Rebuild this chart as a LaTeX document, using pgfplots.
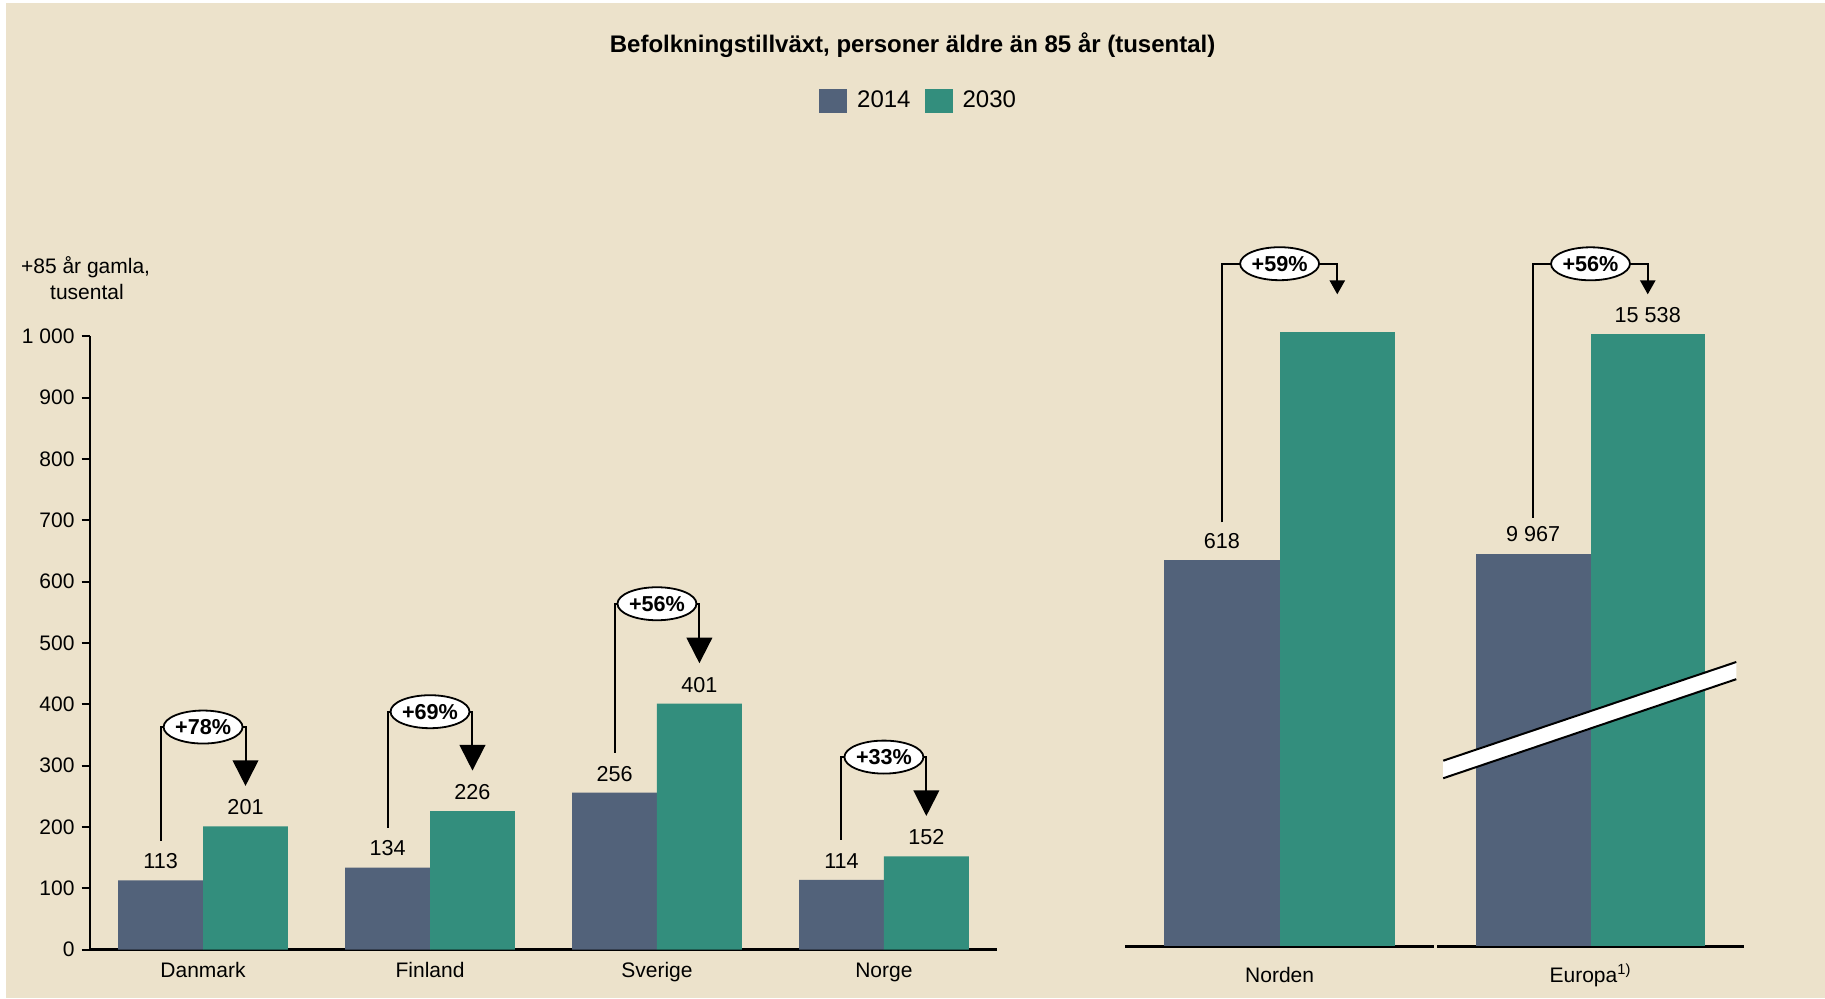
\documentclass[border=0pt]{standalone}
\usepackage{fontspec}
\setmainfont{Liberation Sans}
\usepackage{pgfplots}
\pgfplotsset{compat=1.18}
\usetikzlibrary{arrows.meta,shapes.geometric}
\definecolor{bg}{RGB}{236,226,203}
\definecolor{cA}{RGB}{82,98,122}
\definecolor{cB}{RGB}{51,142,125}
\newcommand{\fs}{\fontsize{10.5}{12}\selectfont}
\newcommand{\fv}{\fontsize{10.8}{12}\selectfont}
\tikzset{pct/.style={ellipse, draw=black, fill=white, line width=0.9pt, minimum width=36.5pt, minimum height=16.5pt, inner sep=0pt, font=\bfseries\fontsize{10.8}{12}\selectfont}}
% #1 x2014, #2 x2030, #3 xcenter, #4 bottom, #5 top, #6 tip, #7 text
\newcommand{\growthL}[7]{%
  \draw[line width=1pt, line join=miter, -{Triangle[width=12.8pt,length=12.8pt]}] (axis cs:#1,#4) |- (axis cs:#2,#5) -- (axis cs:#2,#6);
  \node[pct] at (axis cs:#3,#5) {#7};}
\newcommand{\growthR}[7]{%
  \draw[line width=1pt, line join=miter, -{Triangle[width=7.6pt,length=7pt]}] (axis cs:#1,#4) |- (axis cs:#2,#5) -- (axis cs:#2,#6);
  \node[pct] at (axis cs:#3,#5) {#7};}
\pgfplotsset{
  common/.style={
    anchor=south west, scale only axis, clip=false, enlargelimits=false,
    ybar=0pt, bar width=0.374,
    axis x line*=bottom,
    x axis line style={line width=1.6pt, black},
    x tick style={draw=none},
    tick label style={font=\fs, black},
    every node near coord/.append style={font=\fv, anchor=south, inner sep=0pt, yshift=5.5pt, black},
  }
}
\begin{document}
\begin{tikzpicture}
\useasboundingbox (0,0) rectangle (912.5pt,499pt);
\fill[white] (0,0) rectangle (912.5pt,499pt);
\fill[bg] (3pt,0) rectangle (912.5pt,497.5pt);

\node[font=\bfseries\fontsize{12}{14}\selectfont, anchor=base] at (456.3pt,472.5pt) {Befolkningstillväxt, personer äldre än 85 år (tusental)};
\node[font=\fs, anchor=base] at (42.8pt,362.4pt) {+85 år gamla,};
\node[font=\fs, anchor=base] at (43.5pt,349pt) {tusental};

% Left panel: countries
\begin{axis}[common,
  at={(44.8pt,24.15pt)}, width=453.9pt, height=306.7pt,
  xmin=-0.5, xmax=3.5, ymin=0, ymax=1000,
  axis y line*=left,
  y axis line style={line width=1pt, black},
  xtick={0,1,2,3}, xticklabels={Danmark,Finland,Sverige,Norge},
  xticklabel style={anchor=base, yshift=-10pt},
  ytick={0,100,...,1000}, yticklabels={0,100,200,300,400,500,600,700,800,900,1 000},
  y tick style={line width=1pt, black},
  tick align=outside, major tick length=4pt,
  nodes near coords, point meta=explicit symbolic,
  legend style={at={(0.9143,1.3836)}, anchor=center, draw=none, fill=none,
    font=\fontsize{12}{14}\selectfont, legend columns=2,
    /tikz/every odd column/.append style={column sep=3pt},
    /tikz/every even column/.append style={column sep=5pt}},
  legend image code/.code={\fill[#1] (0pt,-5.8pt) rectangle (14pt,5.8pt);},
]
\addplot[fill=cA, draw=none] coordinates {(0,113) [113] (1,134) [134] (2,256) [256] (3,114) [114]};
\addplot[fill=cB, draw=none] coordinates {(0,201) [201] (1,226) [226] (2,401) [401] (3,152) [152]};
\legend{2014,2030}
\growthL{-0.187}{0.187}{0}{178}{363}{267}{+78\%}
\growthL{0.813}{1.187}{1}{199}{388}{292}{+69\%}
\growthL{1.813}{2.187}{2}{321}{564}{467}{+56\%}
\growthL{2.813}{3.187}{3}{179}{314}{218}{+33\%}
\end{axis}

% Norden
\begin{axis}[common,
  at={(562.7pt,25.9pt)}, width=154.2pt, height=312.5pt,
  xmin=-0.5, xmax=0.5, ymin=0, ymax=1000,
  axis y line=none,
  xtick={0}, xticklabels={Norden},
  xticklabel style={anchor=base, yshift=-13.75pt},
  ytick=\empty,
]
\addplot[fill=cA, draw=none, nodes near coords, point meta=explicit symbolic] coordinates {(0,618) [618]};
\addplot[fill=cB, draw=none] coordinates {(0,983)};
\growthR{-0.187}{0.187}{0}{678}{1092}{1043}{+59\%}
\end{axis}

% Europa
\begin{axis}[common,
  at={(718.7pt,25.9pt)}, width=153.1pt, height=312.5pt,
  xmin=-0.5, xmax=0.5, ymin=0, ymax=15863,
  axis y line=none,
  xtick={0}, xticklabels={Europa\textsuperscript{1)}},
  xticklabel style={anchor=base, yshift=-13.75pt},
  ytick=\empty,
  nodes near coords, point meta=explicit symbolic,
]
\addplot[fill=cA, draw=none] coordinates {(0,9967) [9 967]};
\addplot[fill=cB, draw=none] coordinates {(0,15538) [15 538]};
\fill[white] (axis cs:-0.481,4263) -- (axis cs:-0.481,4708) -- (axis cs:0.476,7213) -- (axis cs:0.476,6777) -- cycle;
\draw[line width=1pt] (axis cs:-0.481,4708) -- (axis cs:0.476,7213);
\draw[line width=1pt] (axis cs:-0.481,4263) -- (axis cs:0.476,6777);
\growthR{-0.187}{0.187}{0}{10870}{17320}{16545}{+56\%}
\end{axis}
\end{tikzpicture}
\end{document}
